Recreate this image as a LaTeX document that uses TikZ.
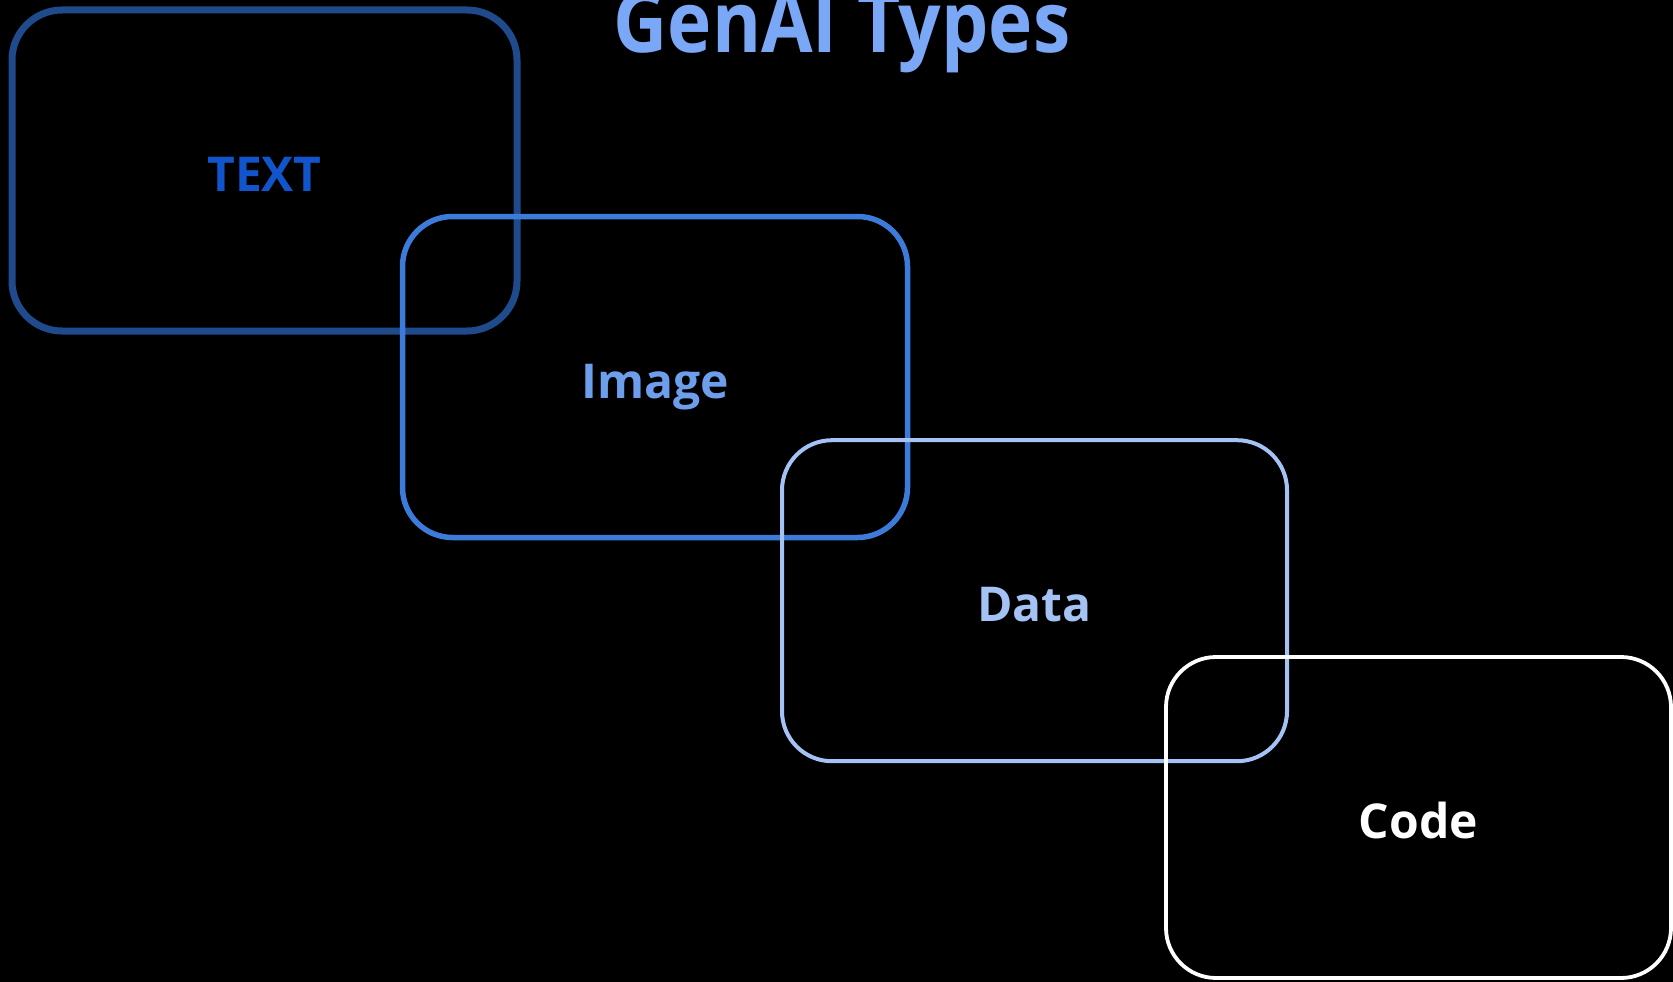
\documentclass[tikz,border=0pt]{standalone}
\usepackage{fontspec}
\setmainfont{Open Sans}
\definecolor{bgc}{HTML}{000000}
\definecolor{boxA}{HTML}{1F4A8C}
\definecolor{boxB}{HTML}{3C7BDA}
\definecolor{boxC}{HTML}{A4C2F4}
\definecolor{boxD}{HTML}{FFFFFF}
\definecolor{lblA}{HTML}{1155CC}
\definecolor{lblB}{HTML}{6D9EEB}
\definecolor{lblC}{HTML}{A4C2F4}
\definecolor{lblD}{HTML}{FFFFFF}
\definecolor{titlec}{HTML}{7AA8F6}
\begin{document}
\begin{tikzpicture}[x=1pt,y=-1pt,
  typebox/.style={draw, rectangle, rounded corners=50pt, minimum width=505pt,
    minimum height=321pt, inner sep=0pt,
    font=\fontsize{48}{52}\selectfont\bfseries, text height=42pt, text depth=0pt}]
\fill[bgc] (0,0) rectangle (1673,982);
\useasboundingbox (0,0) rectangle (1673,982);
\node[typebox, boxA, line width=7pt, text=lblA] (text) at (264.5,170.5) {TEXT};
\node[typebox, boxB, line width=5.5pt, text=lblB] (image) at (655,377) {Image};
\node[typebox, boxC, line width=4pt, text=lblC] (data) at (1034.5,600.7) {Data};
\node[typebox, boxD, line width=3.8pt, text=lblD] (code) at (1418.5,817.5) {Code};
\node[anchor=base, inner sep=0pt, text=titlec, font=\fontsize{85}{85}\selectfont\bfseries] (title) at (842,53) {\scalebox{0.88}[1]{GenAI Types}};
\end{tikzpicture}
\end{document}
